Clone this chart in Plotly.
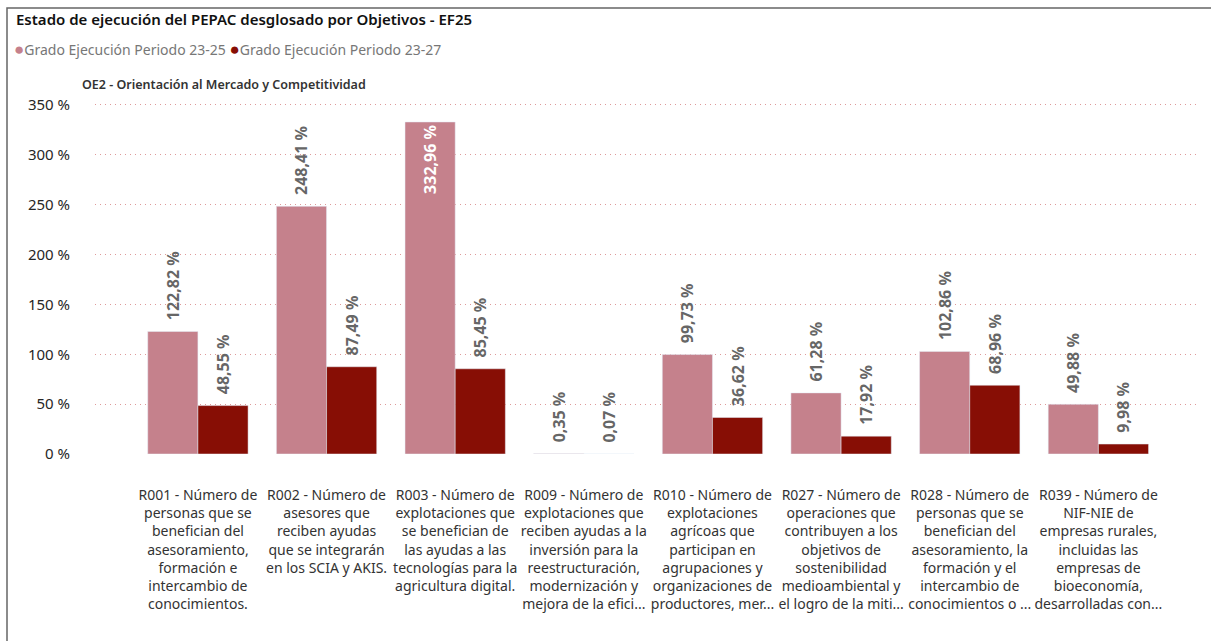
import plotly.graph_objects as go

# datos
categorias = [
    "R001 - Número de<br>personas que se<br>benefician del<br>asesoramiento,<br>formación e<br>intercambio de<br>conocimientos.",
    "R002 - Número de<br>asesores que<br>reciben ayudas<br>que se integrarán<br>en los SCIA y AKIS.",
    "R003 - Número de<br>explotaciones que<br>se benefician de<br>las ayudas a las<br>tecnologías para la<br>agricultura digital.",
    "R009 - Número de<br>explotaciones que<br>reciben ayudas a la<br>inversión para la<br>reestructuración,<br>modernización y<br>mejora de la efici...",
    "R010 - Número de<br>explotaciones<br>agrícoas que<br>participan en<br>agrupaciones y<br>organizaciones de<br>productores, mer...",
    "R027 - Número de<br>operaciones que<br>contribuyen a los<br>objetivos de<br>sostenibilidad<br>medioambiental y<br>el logro de la miti...",
    "R028 - Número de<br>personas que se<br>benefician del<br>asesoramiento, la<br>formación y el<br>intercambio de<br>conocimientos o ...",
    "R039 - Número de<br>NIF-NIE de<br>empresas rurales,<br>incluidas las<br>empresas de<br>bioeconomía,<br>desarrolladas con...",
]
grado_23_25 = [122.82, 248.41, 332.96, 0.35, 99.73, 61.28, 102.86, 49.88]
grado_23_27 = [48.55, 87.49, 85.45, 0.07, 36.62, 17.92, 68.96, 9.98]
nombres = ["Grado Ejecución Periodo 23-25", "Grado Ejecución Periodo 23-27"]
colores = ["#C5818C", "#870E05"]

FUENTE = "Segoe UI, Noto Sans, sans-serif"
x = list(range(len(categorias)))


def etiqueta(v, dentro):
    t = f"{v:.2f}".replace(".", ",") + " %"
    # un poco de aire entre la barra y la etiqueta de fuera
    return t if dentro else "\u00a0\u00a0" + t


fig = go.Figure()
for serie, nombre, color in zip([grado_23_25, grado_23_27], nombres, colores):
    # la etiqueta va dentro si no cabe por arriba
    dentro = [v > 300 for v in serie]
    fig.add_trace(go.Bar(
        x=x, y=serie, name=nombre, marker_color=color,
        text=[etiqueta(v, d) for v, d in zip(serie, dentro)],
        textposition=["inside" if d else "outside" for d in dentro], textangle=-90,
        insidetextanchor="end", constraintext="none", cliponaxis=False,
        outsidetextfont=dict(family=FUENTE, size=16, color="#666666", weight="bold"),
        insidetextfont=dict(family=FUENTE, size=16, color="#ffffff", weight="bold"),
        showlegend=False,
    ))

leyenda = " ".join(
    f'<span style="color:{c};font-size:17px">●</span>{n}' for n, c in zip(nombres, colores))

fig.update_layout(
    width=1211, height=641,
    margin=dict(l=95, r=11, t=103, b=187),
    paper_bgcolor="white", plot_bgcolor="white",
    barmode="group", bargap=0.22, bargroupgap=0,
    font=dict(family=FUENTE, color="#333333"),
    xaxis=dict(
        tickmode="array", tickvals=x, ticktext=categorias,
        range=[-0.8, 7.79], showgrid=False, zeroline=False, showline=False,
        tickfont=dict(size=14, color="#333333"), tickangle=0, ticklabelstandoff=31,
    ),
    yaxis=dict(
        range=[0, 352], dtick=50, ticksuffix=" %",
        showgrid=True, gridcolor="#DE9A9A", griddash="1px,4px", gridwidth=1.3,
        zeroline=False, showline=False,
        tickfont=dict(size=15, color="#262626"), ticklabelstandoff=24,
    ),
    title=dict(
        text="Estado de ejecución del PEPAC desglosado por Objetivos - EF25",
        x=16 / 1211, xanchor="left", xref="container",
        y=1 - 20 / 641, yanchor="middle", yref="container",
        font=dict(family=FUENTE, size=15, color="#111111", weight=600),
    ),
    annotations=[
        dict(text=leyenda, xref="paper", yref="paper",
             x=(12 - 95) / 1105, y=(454 - 48) / 351, xanchor="left", yanchor="middle",
             showarrow=False, font=dict(family=FUENTE, size=14, color="#777777")),
        dict(text="OE2 - Orientación al Mercado y Competitividad", xref="paper", yref="paper",
             x=(80 - 95) / 1105, y=(454 - 85) / 351, xanchor="left", yanchor="middle",
             showarrow=False, font=dict(family=FUENTE, size=12.5, color="#333333", weight=600)),
    ],
    shapes=[
        dict(type="rect", xref="paper", yref="paper",
             x0=(7 - 95) / 1105, x1=(1220 - 95) / 1105,
             y0=(454 - 650) / 351, y1=(454 - 8) / 351,
             line=dict(color="#666666", width=1.5), layer="below"),
    ],
)

# sin el margen por defecto del body para que la figura empiece en (0, 0)
fig.write_html("out.html", config={"displayModeBar": False},
               post_script="document.body.style.margin='0';")
